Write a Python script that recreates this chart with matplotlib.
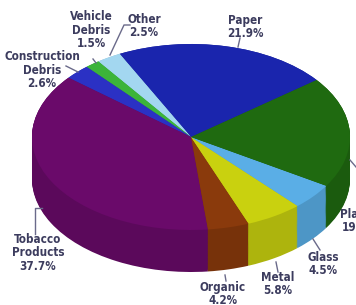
import numpy as np
import matplotlib.pyplot as plt
from matplotlib.lines import Line2D

# slices, counter-clockwise starting from Paper
labels = ['Paper', 'Other', 'Vehicle\nDebris', 'Construction\nDebris', 'Tobacco\nProducts',
          'Organic', 'Metal', 'Glass', 'Plastic']
pct = [21.9, 2.5, 1.5, 2.6, 37.7, 4.2, 5.8, 4.5, 19.3]
colors = ['#1a25ad', '#a3d7f0', '#3cb43a', '#2b31c4', '#6a0a6a',
          '#8a3a0c', '#c9d10f', '#5aaee6', '#1f6a10']

W, H = 356, 305
cx, cy, rx, ry = 191, 137, 159, 93   # ellipse in pixels
depth = 42 / ry

def darker(c, f=0.86):
    r, g, b = plt.matplotlib.colors.to_rgb(c)
    return (r * f, g * f, b * f)

side = [darker(c) for c in colors]

fig = plt.figure(figsize=(W / 100, H / 100), dpi=100)
ax = fig.add_axes([0, 0, 1, 1])

# side of the cake: stacked pies, bottom first
for d in np.linspace(depth, 0, 45):
    ax.pie(pct, colors=side, startangle=37.8, counterclock=True,
           center=(0, -d), radius=1, wedgeprops=dict(linewidth=0))
ax.pie(pct, colors=colors, startangle=37.8, counterclock=True,
       center=(0, 0), radius=1, wedgeprops=dict(linewidth=0))

ax.set_aspect('auto')
ax.set_xlim(-cx / rx, (W - cx) / rx)
ax.set_ylim(-(H - cy) / ry, cy / ry)
ax.axis('off')

def fp(x, y):
    return x / W, 1 - y / H

# label layout: text centre and leader line (pixels)
layout = [
    ((245, 27), [(240, 38), (238, 47)]),
    ((144, 26), [(130, 25), (124, 25), (110, 55)]),
    ((91, 30), [(93, 59), (96, 63)]),
    ((42, 70), [(66, 66), (78, 72)]),
    ((38, 253), [(42, 208), (35, 208), (35, 234)]),
    ((223, 294), [(225, 275), (226, 281)]),
    ((278, 284), [(276, 262), (278, 272)]),
    ((323, 264), [(313, 239), (320, 250)]),
    ((360, 221), [(350, 160), (356, 167)]),
]

txt_col = '#3c3c5e'
line_col = '#6a6a8a'
for lab, p, (pos, pts) in zip(labels, pct, layout):
    x, y = fp(*pos)
    fig.text(x, y, '%s\n%.1f%%' % (lab, p), ha='center', va='center',
             fontsize=8.4, fontweight='bold', color=txt_col, linespacing=1.08,
             family='DejaVu Sans', fontstretch='condensed')
    xs = [fp(a, b)[0] for a, b in pts]
    ys = [fp(a, b)[1] for a, b in pts]
    fig.add_artist(Line2D(xs, ys, transform=fig.transFigure, color=line_col, lw=1))

fig.savefig('out.png', dpi=100, facecolor='white')
